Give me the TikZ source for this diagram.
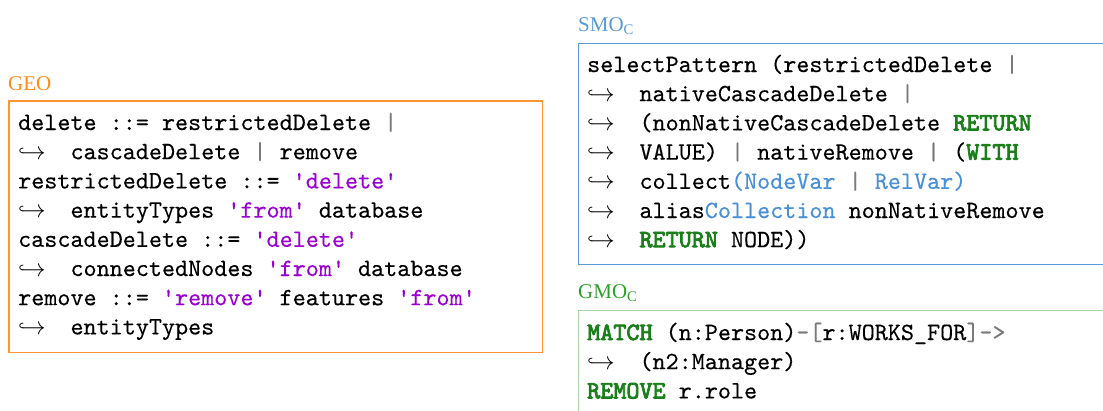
\documentclass[tikz,border=0pt]{standalone}
\usepackage{fontspec}
\setmainfont{Liberation Serif}
\setmonofont[FakeBold=0.3,BoldFont=lmmono10-regular.otf,
  BoldFeatures={FakeBold=3.2}]{lmmono10-regular.otf}
\usepackage{xcolor}
\usetikzlibrary{positioning}
\definecolor{GeoOrange}{HTML}{FF8C1A}
\definecolor{GeoEdge}{rgb}{1.0,0.58,0.2}
\definecolor{SmoBlue}{HTML}{5B9BD5}
\definecolor{GmoGreen}{HTML}{2CA02C}
\definecolor{GmoEdge}{HTML}{A8D5A8}
\definecolor{KwGreen}{HTML}{1A7F1A}
\definecolor{LitViolet}{HTML}{9A00D0}
\definecolor{VarBlue}{HTML}{4A90D9}
\definecolor{PunGray}{HTML}{7A7A7A}
\newcommand{\hk}{\makebox[2.1em][l]{$\hookrightarrow$}}
\newcommand{\kw}[1]{\textcolor{KwGreen}{\textbf{#1}}}
\newcommand{\lit}[1]{\textcolor{LitViolet}{#1}}
\newcommand{\vb}[1]{\textcolor{VarBlue}{#1}}
\newcommand{\pun}[1]{\textcolor{PunGray}{#1}}
\newcommand{\sep}{\pun{|}}
\newcommand{\codeblock}[1]{\parbox[t]{520pt}{\raggedright\ttfamily
  \fontsize{24.9}{29.2}\selectfont #1}}

\begin{document}
\begin{tikzpicture}[x=1pt,y=-1pt,
    codeframe/.style={anchor=north west, inner sep=0pt, line width=1.2pt},
    lbl/.style={anchor=base west, inner sep=0pt, font=\fontsize{21}{25}\selectfont},
    code/.style={anchor=base west, inner sep=0pt, text=black}]
  \useasboundingbox (0,0) rectangle (1103,410);
  % frames
  \node[codeframe, minimum width=532pt, minimum height=250pt]
    (geo) at (9,101) {};
  \draw[GeoEdge, line width=1.2pt] (geo.north west) rectangle (geo.south east);
  \node[codeframe, draw=SmoBlue, minimum width=540pt, minimum height=221pt]
    (smo) at (578,43) {};
  \node[codeframe, draw=GmoEdge, minimum width=540pt, minimum height=150pt]
    (gmo) at (578,310) {};
  % labels
  \node[lbl, text=GeoOrange] (geolbl) at (8,90)  {GEO};
  \node[lbl, text=SmoBlue]   (smolbl) at (578,31) {SMO\textsubscript{C}};
  \node[lbl, text=GmoGreen]  (gmolbl) at (578,298) {GMO\textsubscript{C}};
  % code
  \node[code] (geocode) at (18,130) {\codeblock{%
    delete ::= restrictedDelete \sep\\
    \hk cascadeDelete \sep{} remove\\
    restrictedDelete ::= \lit{'delete'}\\
    \hk entityTypes \lit{'from'} database\\
    cascadeDelete ::= \lit{'delete'}\\
    \hk connectedNodes \lit{'from'} database\\
    remove ::= \lit{'remove'} features \lit{'from'}\\
    \hk entityTypes}};
  \node[code] (smocode) at (587,72) {\codeblock{%
    selectPattern (restrictedDelete \sep\\
    \hk nativeCascadeDelete \sep\\
    \hk (nonNativeCascadeDelete \kw{RETURN}\\
    \hk VALUE) \sep{} nativeRemove \sep{} (\kw{WITH}\\
    \hk collect\vb{(NodeVar} \sep{} \vb{RelVar)}\\
    \hk alias\vb{Collection} nonNativeRemove\\
    \hk \kw{RETURN} NODE))}};
  \node[code] (gmocode) at (587,340) {\codeblock{%
    \kw{MATCH} (n:Person)\pun{-[}r:WORKS\_FOR\pun{]->}\\
    \hk (n2:Manager)\\
    \kw{REMOVE} r.role}};
\end{tikzpicture}
\end{document}
